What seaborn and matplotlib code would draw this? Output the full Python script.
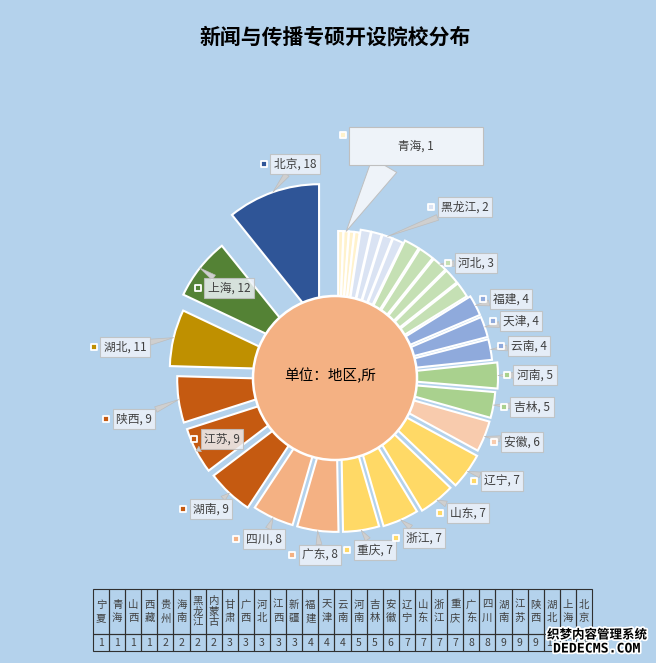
import numpy as np
import matplotlib
matplotlib.use('Agg')
import matplotlib.pyplot as plt
import matplotlib.patheffects as pe
import seaborn as sns

# ---------------- data ----------------
provinces = ['宁夏', '青海', '山西', '西藏', '贵州', '海南', '黑龙江', '内蒙古',
             '甘肃', '广西', '河北', '江西', '新疆', '福建', '天津', '云南',
             '河南', '吉林', '安徽', '辽宁', '山东', '浙江', '重庆', '广东',
             '四川', '湖南', '江苏', '陕西', '湖北', '上海', '北京']
counts = [1, 1, 1, 1, 2, 2, 2, 2, 3, 3, 3, 3, 3, 4, 4, 4, 5, 5, 6, 7, 7, 7, 7,
          8, 8, 9, 9, 9, 11, 12, 18]
title = '新闻与传播专硕开设院校分布'
center_text = '单位：地区,所'
watermark = ['织梦内容管理系统', 'DEDECMS.COM']

# ---------------- style ----------------
W, H = 656, 663
BG = '#B4D2EC'
value_colors = {1: '#FFF2CC', 2: '#DAE3F3', 3: '#C5E0B4', 4: '#8FAADC',
                5: '#A9D18E', 6: '#F8CBAD', 7: '#FFD966', 8: '#F4B183',
                9: '#C55A11', 11: '#BF9000', 12: '#548235', 18: '#2F5597'}
explode_px = [7, 7, 7, 7, 10, 10, 10, 10, 13, 13, 13, 13, 13, 16, 16, 16,
              21, 19, 19, 21, 19, 17, 16, 16, 16, 20, 21, 22, 30, 37, 57]
label_pos = {'青海': (416, 146), '黑龙江': (465, 207), '河北': (476, 263),
             '福建': (511, 299), '天津': (521, 321), '云南': (529, 346),
             '河南': (535, 375), '吉林': (532, 407), '安徽': (522, 442),
             '辽宁': (502, 481), '山东': (468, 513), '浙江': (424, 538),
             '重庆': (375, 550), '广东': (320, 555), '四川': (264, 539),
             '湖南': (211, 509), '江苏': (222, 439), '陕西': (134, 419),
             '湖北': (125, 347), '上海': (229, 288), '北京': (295, 164)}
PCX, PCY, R = 338, 377, 139        # pie centre / radius (pixels, y down)
CCX, CCY, R_IN = 335, 378, 82      # centre disc
TXT = '#404040'
BOX_FC = '#EEF3F9'
BOX_EC = '#BFBFBF'

sns.set_theme(style='white')
plt.rcParams['font.family'] = ['Noto Sans CJK SC', 'DejaVu Sans']
plt.rcParams['axes.unicode_minus'] = False

fig = plt.figure(figsize=(W / 100, H / 100), dpi=100)
fig.patch.set_facecolor(BG)
ax = fig.add_axes([0, 0, 1, 1])
ax.set_facecolor('none')

wedges, _ = ax.pie(counts, radius=R, center=(PCX, H - PCY), startangle=90,
                   counterclock=False, explode=explode_px,
                   colors=[value_colors[v] for v in counts],
                   wedgeprops=dict(edgecolor='white', linewidth=1.5),
                   frame=False)
ax.pie([1], radius=R_IN, center=(CCX, H - CCY), colors=['#F4B183'],
       wedgeprops=dict(edgecolor='white', linewidth=1.8), frame=False)
ax.set_xlim(0, W)
ax.set_ylim(0, H)
ax.set_aspect('auto')
ax.axis('off')

ax.text(CCX - 5, H - 376, center_text, ha='center', va='center',
        fontsize=10.5, color='black')

anns = {}
for i, name in enumerate(provinces):
    if name not in label_pos:
        continue
    w = wedges[i]
    tm = np.deg2rad((w.theta1 + w.theta2) / 2)
    xy = (w.center[0] + w.r * np.cos(tm), w.center[1] + w.r * np.sin(tm))
    tx, ty = label_pos[name]
    txt = f'{name}, {counts[i]}'
    if name == '青海':
        txt = ' ' * 14 + txt + ' ' * 14
        bbox = dict(boxstyle='square,pad=1.05', fc=BOX_FC, ec=BOX_EC, lw=0.8)
        arrow = dict(arrowstyle='wedge,tail_width=2.4', fc=BOX_FC, ec=BOX_EC,
                     lw=0.7, shrinkA=0, shrinkB=0, relpos=(0.28, 0.0))
    else:
        bbox = dict(boxstyle='square,pad=0.3', fc=BOX_FC, ec=BOX_EC, lw=0.8,
                    alpha=0.85)
        arrow = dict(arrowstyle='wedge,tail_width=0.5', fc='#CFCFCF',
                     ec='#BDBDBD', lw=0.5, shrinkA=0, shrinkB=0)
    anns[name] = ax.annotate(txt, xy=xy, xytext=(tx, H - ty), ha='center',
                             va='center', fontsize=8.5, color=TXT, bbox=bbox,
                             arrowprops=arrow, zorder=5)

fig.canvas.draw()
renderer = fig.canvas.get_renderer()
for i, name in enumerate(provinces):
    if name not in anns:
        continue
    bb = anns[name].get_bbox_patch().get_window_extent(renderer)
    if name == '青海':
        mx, my = bb.x0 - 6, bb.y1 - 8
    else:
        mx, my = bb.x0 - 6.5, (bb.y0 + bb.y1) / 2
    ax.scatter([mx], [my], marker='s', s=22, c=[value_colors[counts[i]]],
               edgecolors='white', linewidths=1.3, zorder=6)

fig.text(335 / W, 1 - 37 / H, title, ha='center', va='center', fontsize=15,
         fontweight='bold', color='black')

# table
tx0, tx1, ty0, ty1 = 93, 592, 589, 651
tax = fig.add_axes([tx0 / W, (H - ty1) / H, (tx1 - tx0) / W, (ty1 - ty0) / H])
tax.axis('off')
header = ['\n'.join(p) for p in provinces]
tbl = tax.table(cellText=[header, [str(c) for c in counts]], cellLoc='center',
                bbox=[0, 0, 1, 1])
tbl.auto_set_font_size(False)
tbl.set_fontsize(7.5)
for (r, c), cell in tbl.get_celld().items():
    cell.set_facecolor('none')
    cell.set_edgecolor('#303030')
    cell.set_linewidth(0.8)
    cell.set_height(45 if r == 0 else 17)
    t = cell.get_text()
    t.set_color(TXT)
    if r == 0:
        t.set_linespacing(1.45 if len(provinces[c]) == 2 else 1.1)

fig.text(597 / W, 1 - 635 / H, watermark[0], ha='center', va='center',
         fontsize=9, fontweight='bold', color='black',
         path_effects=[pe.withStroke(linewidth=2.5, foreground='white')])
fig.text(597 / W, 1 - 649 / H, watermark[1], ha='center', va='center',
         fontsize=9.5, fontweight='bold', color='black',
         family=['DejaVu Sans Mono'],
         path_effects=[pe.withStroke(linewidth=2.5, foreground='white')])

fig.savefig('out.png', dpi=100, facecolor=BG)
